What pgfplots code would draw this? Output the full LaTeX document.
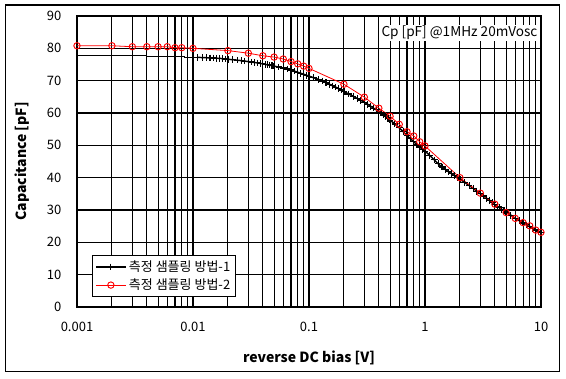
\documentclass[border=0pt]{standalone}
\usepackage{pgfplots}
\pgfplotsset{compat=1.18}
\usepackage{fontspec}
\setmainfont{Noto Sans CJK KR}
\begin{document}
\begin{tikzpicture}[x=0.75pt,y=0.75pt]
\useasboundingbox (-77,-71) rectangle (489,307);
\fill[white] (-77,-71) rectangle (489,307);
\draw[black, line width=0.9pt] (-71.5,-64.7) rectangle (482.5,302);
\begin{axis}[
  at={(0,0)}, anchor=south west,
  scale only axis, width=348pt, height=218.25pt,
  xmode=log, xmin=0.001, xmax=10, ymin=0, ymax=90,
  xtick={0.001,0.01,0.1,1,10}, xticklabels={0.001,0.01,0.1,1,10},
  minor xtick={0.002,0.003,0.004,0.005,0.006,0.007,0.008,0.009,
               0.02,0.03,0.04,0.05,0.06,0.07,0.08,0.09,
               0.2,0.3,0.4,0.5,0.6,0.7,0.8,0.9,
               2,3,4,5,6,7,8,9},
  ytick={0,10,...,90},
  grid=both,
  major grid style={black, line width=0.8pt},
  minor grid style={black, line width=0.8pt},
  major tick length=0pt, minor tick length=0pt,
  axis line style={black, line width=0.8pt},
  /pgf/number format/assume math mode=true,
  tick label style={font=\fontsize{9.75}{11}\selectfont},
  xticklabel style={yshift=-7.8pt},
  yticklabel style={xshift=-8.25pt},
  xlabel={reverse DC bias [V]},
  ylabel={Capacitance [pF]},
  xlabel style={at={(axis description cs:0.5,-0.1753)}, anchor=center, font=\fontsize{10.5}{12}\selectfont\bfseries},
  ylabel style={at={(axis description cs:-0.1175,0.5)}, anchor=center, font=\fontsize{10.5}{12}\selectfont\bfseries},
  clip=false,
  legend cell align=left,
  legend image code/.code={\draw[mark repeat=2,mark phase=2] plot coordinates {(0pt,0pt)(11pt,0pt)(22pt,0pt)};},
  legend style={at={(rel axis cs:0.033,0.0333)}, anchor=south west, draw=black, line width=0.75pt, fill=white,
    font=\fontsize{9.75}{11}\selectfont, inner sep=2pt, row sep=0pt, nodes={inner sep=2pt}},
]
\addplot[black, line width=0.75pt, forget plot] coordinates {
(0.001,77.8)(0.004,77.8)(0.004,77.5)(0.0084,77.5)(0.0084,77.2)(0.011,77.2)};
\addplot[black, line width=1.1pt, mark=+, mark size=2.5pt, mark options={solid, line width=0.9pt}] coordinates {
(0.011,77.2)(0.012,77.15)(0.013,77.1)(0.014,77.05)(0.015,77.0)(0.016,76.95)(0.017,76.9)(0.018,76.8)(0.019,76.7)(0.02,76.6)
(0.022,76.5)(0.024,76.35)(0.026,76.2)(0.028,76.05)(0.03,75.9)(0.032,75.75)(0.034,75.6)(0.036,75.5)(0.038,75.35)(0.04,75.2)
(0.042,75.05)(0.044,74.9)(0.046,74.8)(0.048,74.65)(0.05,74.5)(0.055,74.2)(0.06,73.9)(0.065,73.6)(0.07,73.3)(0.075,72.95)
(0.08,72.6)(0.085,72.3)(0.09,72.0)(0.095,71.7)(0.1,71.4)
(0.11,70.9)(0.12,70.4)(0.13,69.9)(0.14,69.4)(0.15,68.9)(0.16,68.4)(0.17,68.0)(0.18,67.5)(0.19,67.1)(0.2,66.6)
(0.22,65.9)(0.24,65.2)(0.26,64.5)(0.28,63.9)(0.3,63.3)(0.32,62.7)(0.34,62.1)(0.36,61.5)(0.38,61.0)(0.4,60.5)
(0.42,60.0)(0.44,59.4)(0.46,58.9)(0.48,58.3)(0.5,57.8)(0.55,56.6)(0.6,55.4)(0.65,54.2)(0.7,53.0)(0.75,52.0)
(0.8,51.1)(0.85,50.3)(0.9,49.5)(0.95,48.8)(1.0,48.2)
(1.1,46.9)(1.2,45.5)(1.3,44.3)(1.4,43.3)(1.5,42.5)(1.6,41.8)(1.7,41.2)(1.8,40.6)(1.9,40.0)(2.0,39.5)
(2.2,38.5)(2.4,37.6)(2.6,36.7)(2.8,35.8)(3.0,35.0)(3.2,34.3)(3.4,33.6)(3.6,33.0)(3.8,32.3)(4.0,31.6)
(4.2,31.1)(4.4,30.7)(4.6,30.2)(4.8,29.8)(5.0,29.4)(5.5,28.4)(6.0,27.4)(6.5,26.7)(7.0,26.0)(7.5,25.4)
(8.0,24.8)(8.5,24.3)(9.0,23.8)(9.5,23.4)(10,23.0)};
\addlegendentry{측정 샘플링 방법-1}
\addplot[red, line width=0.6pt, mark=o, mark size=2.4pt, mark options={solid, line width=0.7pt}] coordinates {
(0.001,80.8)(0.002,80.8)(0.003,80.5)(0.004,80.5)(0.005,80.5)(0.006,80.5)(0.007,80.2)(0.008,80.2)(0.01,80.0)
(0.02,79.3)(0.03,78.5)(0.04,77.7)(0.05,77.3)(0.06,76.7)(0.07,75.9)(0.08,75.2)(0.09,74.5)(0.1,73.8)
(0.2,68.9)(0.3,64.9)(0.4,61.5)(0.5,59.0)(0.6,56.5)(0.7,54.2)(0.8,52.9)(0.9,51.1)(1.0,49.8)
(2,40.0)(3,35.2)(4,31.8)(5,29.2)(6,27.4)(7,26.1)(8,25.1)(9,23.8)(10,23.1)};
\addlegendentry{측정 샘플링 방법-2}
\node[anchor=east, fill=white, inner sep=1pt, font=\fontsize{10.2}{11}\selectfont] at (rel axis cs:0.9957,0.9416) {Cp [pF] @1MHz 20mVosc};
\end{axis}
\end{tikzpicture}
\end{document}
